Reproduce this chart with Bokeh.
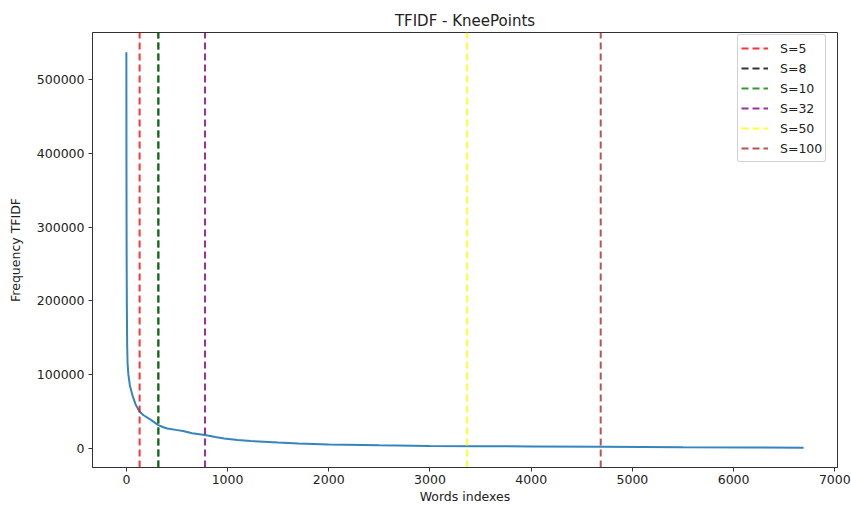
from bokeh.plotting import figure
from bokeh.models import Range1d, FixedTicker, BasicTickFormatter, Legend, LegendItem
from bokeh.embed import file_html
from bokeh.resources import INLINE

# Sorted TF-IDF frequency per word index
word_idx = [0, 1, 2, 3, 5, 8, 12, 20, 35, 60, 90, 131, 170, 223, 260, 316, 360, 405,
            504, 560, 650, 777, 880, 965, 1100, 1228, 1500, 1700, 2000, 2500, 3000,
            3500, 4000, 4700, 5500, 6200, 6692]
tfidf = [537000, 380000, 300000, 250000, 190000, 140000, 115000, 100000, 85000, 72000,
         60000, 49600, 45000, 40500, 37000, 31600, 29000, 27000, 24800, 23500, 20500,
         18100, 15500, 13500, 11500, 10000, 8100, 6800, 5400, 4200, 3200, 3000, 2700,
         2200, 1600, 1200, 950]

# Knee points found for each sensitivity S
knee_labels = ["S=5", "S=8", "S=10", "S=32", "S=50", "S=100"]
knee_x = [131, 316, 316, 777, 3366, 4687]
knee_colors = ["red", "black", "green", "purple", "yellow", "brown"]

x_ticks = [0, 1000, 2000, 3000, 4000, 5000, 6000, 7000]
y_ticks = [0, 100000, 200000, 300000, 400000, 500000]

FONT = "DejaVu Sans"
TXT = "#222222"

# 5% padding around the data, as an autoscaled axes would use
xspan = max(word_idx) - min(word_idx)
yspan = max(tfidf) - min(tfidf)
x0, x1 = min(word_idx) - 0.05 * xspan, max(word_idx) + 0.05 * xspan
y0, y1 = min(tfidf) - 0.05 * yspan, max(tfidf) + 0.05 * yspan

p = figure(width=851, height=506, output_backend="svg", toolbar_location=None,
           x_range=Range1d(x0, x1), y_range=Range1d(y0, y1),
           min_border_left=92, min_border_right=14, min_border_top=32,
           min_border_bottom=39, title="TFIDF - KneePoints")

p.title.align = "center"
p.title.text_font = FONT
p.title.text_font_size = "15px"
p.title.text_font_style = "normal"
p.title.text_color = TXT
p.title.standoff = 6

p.xgrid.visible = False
p.ygrid.visible = False
p.outline_line_color = "#333333"
p.outline_line_width = 1
p.background_fill_color = "white"
p.border_fill_color = "white"

p.line(word_idx, tfidf, line_color="#1f77b4", line_width=2, line_alpha=0.9)

items = []
for lab, kx, col in zip(knee_labels, knee_x, knee_colors):
    r = p.line([kx, kx], [y0, y1], line_color=col, line_alpha=0.8,
               line_width=2, line_dash="7 4")
    items.append(LegendItem(label=lab, renderers=[r]))

legend = Legend(items=items, location=(645, 305))
legend.label_text_font = FONT
legend.label_text_font_size = "12.5px"
legend.label_text_color = TXT
legend.glyph_width = 27
legend.glyph_height = 20
legend.label_height = 20
legend.label_standoff = 12
legend.spacing = 0
legend.padding = 3
legend.margin = 0
legend.border_line_color = "#cccccc"
legend.border_line_alpha = 0.9
legend.background_fill_alpha = 0.8
legend.border_radius = 3
p.add_layout(legend, "center")

for ax, ticks in ((p.xaxis, x_ticks), (p.yaxis, y_ticks)):
    ax.ticker = FixedTicker(ticks=ticks)
    ax.minor_tick_line_color = None
    ax.major_tick_in = 0
    ax.major_tick_out = 4
    ax.major_tick_line_color = "#333333"
    ax.axis_line_color = "#333333"
    ax.major_label_text_font = FONT
    ax.major_label_text_font_size = "12.5px"
    ax.major_label_text_color = TXT
    ax.axis_label_text_font = FONT
    ax.axis_label_text_font_size = "12.5px"
    ax.axis_label_text_font_style = "normal"
    ax.axis_label_text_color = TXT

p.yaxis.formatter = BasicTickFormatter(use_scientific=False)
p.xaxis.axis_label = "Words indexes"
p.yaxis.axis_label = "Frequency TFIDF"
p.xaxis.major_label_standoff = 3
p.xaxis.axis_label_standoff = 2
p.yaxis.major_label_standoff = 4
p.yaxis.axis_label_standoff = 11

open("out.html", "w").write(file_html(p, INLINE))
